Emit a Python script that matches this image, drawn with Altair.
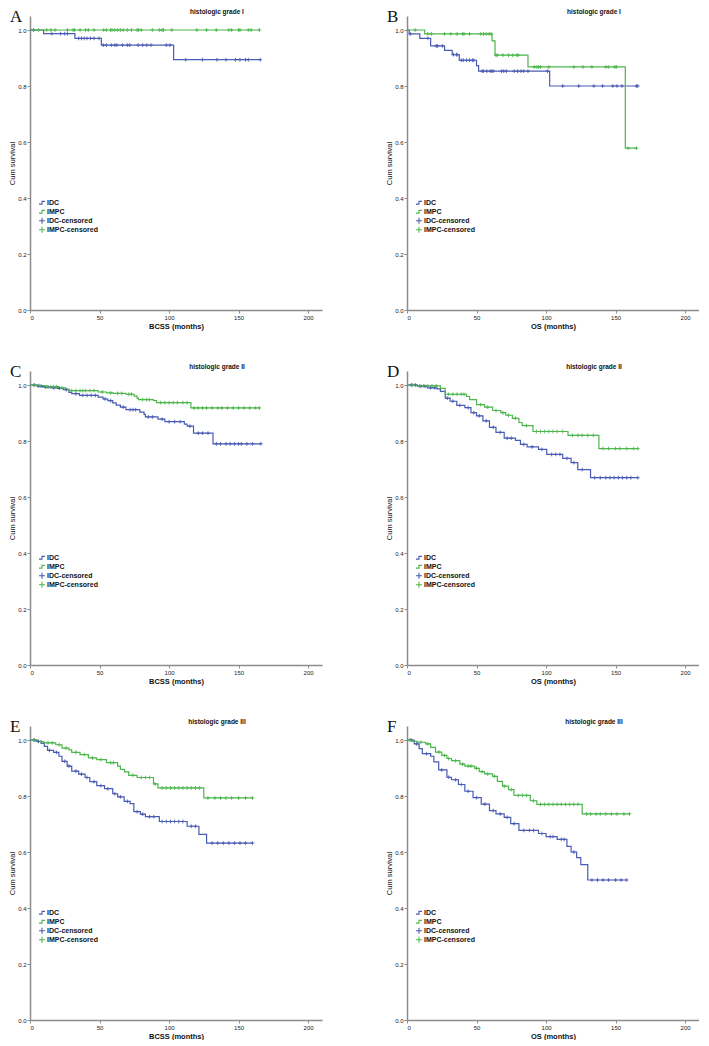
import altair as alt
import pandas as pd

BLUE = "#4a5bb4"
GREEN = "#4db64d"
AXIS_GREY = "#8c8c8c"

# ---------------- Panel A (BCSS, grade I) ----------------
A_IDC_T = [0, 9.8, 32.3, 51.3, 103.3, 165.6]
A_IDC_S = [1.0, 0.987, 0.970, 0.946, 0.894, 0.894]
A_IDC_C = [2.5, 15.7, 22, 25, 27, 35, 37, 39, 41, 43.5, 46, 49.6, 52.7, 55, 58.5, 61, 62.5,
           66.5, 70, 71.7, 77.8, 81, 84, 87, 98, 100.7, 112, 124, 134.4, 141, 147.8, 151,
           155, 157, 165.6]
A_IMPC_T = [0, 165]
A_IMPC_S = [1.0, 1.0]
A_IMPC_C = [2.6, 6.3, 12, 15, 18, 27, 31, 32, 36, 40, 42, 46, 53, 55, 58, 59, 61, 63, 65, 67,
            70, 73, 77, 78, 80, 88, 93, 95, 96, 102, 120, 127, 134, 143, 145, 150, 151, 157,
            159, 165]

# ---------------- Panel B (OS, grade I) ----------------
B_IDC_T = [0, 1.6, 9.2, 17, 27, 32.5, 37.6, 50, 51.5, 102.6, 166]
B_IDC_S = [1.0, 0.986, 0.970, 0.943, 0.927, 0.912, 0.892, 0.873, 0.853, 0.800, 0.800]
B_IDC_C = [2.4, 15, 21, 22, 25.4, 33.4, 35.8, 36, 39, 40.5, 42.8, 45, 47, 48, 54, 55, 57.4,
           59.8, 61, 62, 68, 69.6, 71.5, 77, 79.5, 82, 84, 87, 101, 112, 123.5, 134.4, 140.7,
           148, 151, 154.6, 165, 166]
B_IMPC_T = [0, 12.7, 61.2, 63.3, 87, 157, 165]
B_IMPC_S = [1.0, 0.986, 0.961, 0.910, 0.868, 0.578, 0.578]
B_IMPC_C = [5.9, 15, 17.6, 27, 31.5, 36, 40, 41, 45, 53, 55, 57, 59, 60.5, 64, 65, 69, 73, 76,
            79, 80, 91.5, 93.4, 94.6, 96, 102, 120, 126.6, 133, 143, 144.8, 149.4, 150.6,
            159, 165]

# ---------------- Panel C (BCSS, grade II) ----------------
C_IDC_T = [0, 5.6, 9, 15, 19.7, 24, 28, 30, 35.6, 49, 52.5, 56, 59.5, 62, 65, 69, 79, 82, 83,
           92, 97, 111, 113, 117.6, 131.6, 166]
C_IDC_S = [1.0, 0.996, 0.993, 0.99, 0.988, 0.983, 0.974, 0.969, 0.963, 0.957, 0.950, 0.944,
           0.936, 0.928, 0.921, 0.912, 0.903, 0.895, 0.886, 0.878, 0.869, 0.860, 0.853, 0.828,
           0.790, 0.790]
C_IDC_C = [3, 6, 8, 11, 13, 17, 21, 26, 33, 38, 41, 44, 47, 54, 58, 67, 72, 74, 76, 85, 88, 95,
           100, 104, 108, 115, 121, 124, 128, 134, 137, 141, 144, 147, 150, 152, 156, 160, 166]
C_IMPC_T = [0, 4.4, 10.3, 20.8, 25.5, 28, 49, 55, 60, 69, 75, 77, 78, 88.8, 91, 115.7, 165]
C_IMPC_S = [1.0, 0.998, 0.994, 0.99, 0.985, 0.98, 0.975, 0.972, 0.97, 0.967, 0.96, 0.953,
            0.948, 0.944, 0.937, 0.918, 0.918]
C_IMPC_C = [3, 7, 12, 15, 17, 19, 23, 30, 33, 36, 38, 40, 43, 46, 52, 58, 63, 66, 71, 73, 81,
            84, 86, 94, 97, 100, 103, 106, 110, 113, 118, 121, 124, 127, 131, 135, 138, 142,
            146, 150, 154, 158, 162, 165]

# ---------------- Panel D (OS, grade II) ----------------
D_IDC_T = [0, 7.5, 14.6, 21.6, 24, 27.5, 31, 35.8, 41.6, 46, 50, 54.6, 59.3, 64, 69.9, 78,
           81.6, 86.4, 94.6, 100.5, 112, 118, 122.8, 132, 166]
D_IDC_S = [1.0, 0.995, 0.99, 0.986, 0.977, 0.953, 0.942, 0.927, 0.919, 0.901, 0.890, 0.872,
           0.849, 0.831, 0.810, 0.802, 0.788, 0.779, 0.770, 0.752, 0.738, 0.723, 0.698, 0.669,
           0.669]
D_IDC_C = [3, 6, 10, 13, 17, 20, 29, 33, 38, 44, 48, 52, 57, 62, 67, 72, 75, 84, 90, 97, 104,
           107, 110, 115, 120, 126, 135, 139, 143, 146, 149, 152, 155, 158, 161, 166]
D_IMPC_T = [0, 7.5, 24, 27.5, 42.8, 45, 50, 55.8, 61.6, 67.5, 71, 75.8, 80.5, 82.8, 90.6,
            115.8, 138, 166]
D_IMPC_S = [1.0, 0.997, 0.988, 0.967, 0.959, 0.948, 0.930, 0.921, 0.909, 0.901, 0.892, 0.881,
            0.866, 0.855, 0.834, 0.820, 0.773, 0.773]
D_IMPC_C = [4, 9, 12, 15, 18, 21, 30, 33, 36, 39, 41, 53, 58, 64, 69, 73, 78, 86, 93, 96, 99,
            102, 105, 108, 112, 119, 123, 126, 130, 134, 141, 145, 150, 153, 158, 163, 166]

# ---------------- Panel E (BCSS, grade III) ----------------
E_IDC_T = [0, 4.4, 8, 10.3, 12.6, 17, 20.8, 23, 26.7, 30, 35, 39.6, 43, 48, 53.6, 59.5, 63,
           67.7, 72, 74.7, 79.4, 83, 93, 113, 121.5, 127, 160]
E_IDC_S = [1.0, 0.995, 0.988, 0.977, 0.963, 0.956, 0.942, 0.924, 0.907, 0.889, 0.878, 0.866,
           0.851, 0.837, 0.826, 0.808, 0.797, 0.781, 0.773, 0.744, 0.735, 0.726, 0.709, 0.692,
           0.663, 0.632, 0.632]
E_IDC_C = [3, 6, 14, 19, 25, 28, 33, 37, 41, 46, 51, 56, 61, 65, 70, 77, 81, 86, 89, 95, 98,
           101, 104, 107, 110, 116, 119, 131, 135, 139, 143, 147, 151, 155, 160]
E_IMPC_T = [0, 5.6, 10, 18.5, 23, 28, 30, 36, 42, 48, 55, 63, 65, 68, 71, 77, 88.8, 92, 125,
            160]
E_IMPC_S = [1.0, 0.994, 0.99, 0.983, 0.971, 0.965, 0.956, 0.948, 0.936, 0.930, 0.919, 0.907,
            0.895, 0.886, 0.874, 0.866, 0.843, 0.829, 0.793, 0.793]
E_IMPC_C = [3, 8, 13, 16, 21, 26, 33, 39, 45, 51, 58, 60, 74, 80, 83, 86, 90, 95, 98, 101, 104,
            107, 110, 113, 116, 119, 122, 128, 133, 137, 141, 145, 150, 155, 160]

# ---------------- Panel F (OS, grade III) ----------------
F_IDC_T = [0, 5.2, 8.7, 11, 17, 19.3, 22.8, 28.7, 32, 37, 41.6, 47.5, 53.4, 59.3, 64, 69.9,
           74.6, 80.5, 94.6, 100, 108, 115, 118, 122, 125, 130, 158]
F_IDC_S = [1.0, 0.986, 0.969, 0.951, 0.942, 0.922, 0.893, 0.867, 0.858, 0.841, 0.817, 0.794,
           0.771, 0.748, 0.736, 0.724, 0.701, 0.677, 0.666, 0.655, 0.645, 0.620, 0.600, 0.580,
           0.555, 0.500, 0.500]
F_IDC_C = [3, 7, 14, 25, 30, 35, 39, 44, 50, 56, 62, 67, 72, 77, 84, 88, 91, 97, 103, 105, 111,
           113, 120, 133, 137, 141, 145, 150, 154, 158]
F_IMPC_T = [0, 4, 7.5, 13.4, 17, 20.5, 25, 28.7, 32, 38, 41.6, 48.7, 52, 55.8, 61.6, 65, 68.7,
            73, 76.9, 88.7, 93.4, 126, 160]
F_IMPC_S = [1.0, 0.995, 0.992, 0.986, 0.974, 0.957, 0.945, 0.934, 0.926, 0.914, 0.907, 0.899,
            0.887, 0.879, 0.870, 0.852, 0.835, 0.823, 0.802, 0.783, 0.770, 0.736, 0.736]
F_IMPC_C = [2, 10, 15, 23, 27, 30, 35, 40, 44, 46, 50, 54, 58, 63, 70, 75, 80, 83, 86, 91, 96,
            99, 102, 105, 108, 111, 114, 117, 120, 123, 129, 132, 136, 139, 143, 147, 151, 156,
            160]

LETTERS = ["A", "B", "C", "D", "E", "F"]
TITLES = ["histologic grade I", "histologic grade I", "histologic grade II",
          "histologic grade II", "histologic grade III", "histologic grade III"]
XLABELS = ["BCSS (months)", "OS (months)"] * 3
GROUPS = ["IDC", "IMPC", "IDC-censored", "IMPC-censored"]

STEP = "M-1,0.45H0V-0.45H1"
PLUS = "M-1,0H1M0,-1V1"

W, H = 292, 294


def step_at(ts, ss, c):
    val = ss[0]
    for t, s in zip(ts, ss):
        if t <= c:
            val = s
    return val


def make_panel(i, idc, impc):
    rows, crows = [], []
    for name, (ts, ss, cs) in (("IDC", idc), ("IMPC", impc)):
        for t, s in zip(ts, ss):
            rows.append({"t": t, "s": s, "grp": name})
        for c in cs:
            crows.append({"t": c, "s": step_at(ts, ss, c), "grp": name + "-censored"})
    lines = pd.DataFrame(rows)
    cens = pd.DataFrame(crows)

    cscale = alt.Scale(domain=GROUPS, range=[BLUE, GREEN, BLUE, GREEN])
    sscale = alt.Scale(domain=GROUPS, range=[STEP, STEP, PLUS, PLUS])
    x = alt.X("t:Q", scale=alt.Scale(domain=[0, 210], nice=False),
              axis=alt.Axis(values=[0, 50, 100, 150, 200], title=XLABELS[i],
                            titleFontWeight="bold", titleFontSize=7.5, titlePadding=2))
    y = alt.Y("s:Q", scale=alt.Scale(domain=[0, 1.05], nice=False),
              axis=alt.Axis(values=[0, 0.2, 0.4, 0.6, 0.8, 1.0], format=".1f",
                            title="Cum survival", titleFontWeight="normal",
                            titleFontSize=7.5, titlePadding=1))
    y04 = H * (1 - 0.40 / 1.05)
    leg = alt.Legend(title=None, orient="none", legendX=8, legendY=round(y04 + 1),
                     labelFont="Liberation Sans", labelFontSize=7, labelFontWeight="bold",
                     labelColor="#111", symbolSize=36, symbolStrokeWidth=1.1,
                     symbolFillColor="transparent", clipHeight=7.5,
                     rowPadding=0, labelOffset=1, padding=0)

    line = alt.Chart(lines).mark_line(interpolate="step-after", strokeWidth=1.2).encode(
        x=x, y=y,
        stroke=alt.Stroke("grp:N", scale=alt.Scale(domain=["IDC", "IMPC"], range=[BLUE, GREEN]),
                          legend=None))
    pts = alt.Chart(cens).mark_point(filled=False, size=14, strokeWidth=0.9, opacity=1).encode(
        x=x, y=y,
        color=alt.Color("grp:N", scale=cscale, legend=leg),
        shape=alt.Shape("grp:N", scale=sscale, legend=leg))
    letter = alt.Chart(pd.DataFrame({"k": [LETTERS[i]]})).mark_text(
        font="Liberation Serif", fontSize=17, align="left", baseline="top", color="#111"
    ).encode(text="k:N", x=alt.value(-20), y=alt.value(-7))
    title = alt.Chart(pd.DataFrame({"k": [TITLES[i]]})).mark_text(
        font="Liberation Sans", fontSize=6.5, fontWeight="bold", align="center",
        baseline="alphabetic", color="#111"
    ).encode(text="k:N", x=alt.value(round(W * 0.64)), y=alt.value(-2.5))

    return alt.layer(line, pts, letter, title).properties(width=W, height=H)


panels = [
    make_panel(0, (A_IDC_T, A_IDC_S, A_IDC_C), (A_IMPC_T, A_IMPC_S, A_IMPC_C)),
    make_panel(1, (B_IDC_T, B_IDC_S, B_IDC_C), (B_IMPC_T, B_IMPC_S, B_IMPC_C)),
    make_panel(2, (C_IDC_T, C_IDC_S, C_IDC_C), (C_IMPC_T, C_IMPC_S, C_IMPC_C)),
    make_panel(3, (D_IDC_T, D_IDC_S, D_IDC_C), (D_IMPC_T, D_IMPC_S, D_IMPC_C)),
    make_panel(4, (E_IDC_T, E_IDC_S, E_IDC_C), (E_IMPC_T, E_IMPC_S, E_IMPC_C)),
    make_panel(5, (F_IDC_T, F_IDC_S, F_IDC_C), (F_IMPC_T, F_IMPC_S, F_IMPC_C)),
]

chart = alt.concat(*panels, columns=2, spacing=alt.RowColnumber(row=33, column=63)).resolve_scale(
    color="independent", shape="independent", stroke="independent"
).properties(padding=0).configure_view(stroke=None).configure_axis(
    domainColor=AXIS_GREY, domainWidth=1.5, tickColor=AXIS_GREY, tickSize=3, tickWidth=1,
    labelFont="Liberation Sans", labelFontSize=6, labelColor="#222", labelPadding=1,
    titleFont="Liberation Sans", titleColor="#111", grid=False
)

chart.save("out.html", embed_options={"renderer": "svg", "actions": False})
